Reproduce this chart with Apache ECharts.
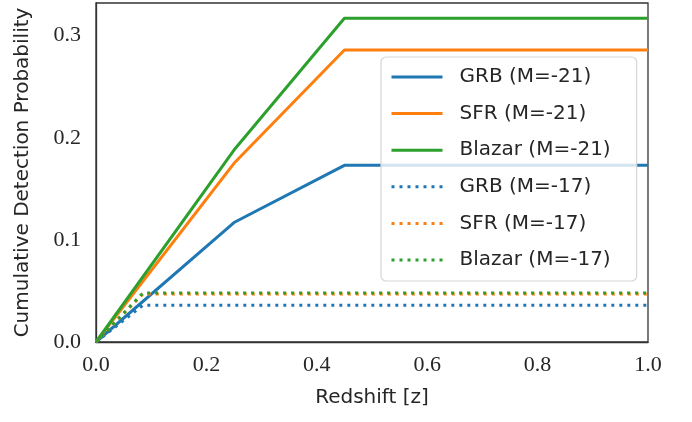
<!DOCTYPE html>
<html>
<head>
<meta charset="utf-8">
<script src="https://cdn.jsdelivr.net/npm/echarts@6/dist/echarts.min.js"></script>
<style>
    html, body { margin: 0; padding: 0; background: #fff; }
    #main { width: 692px; height: 422px; }
</style>
</head>
<body>
<div id="main"></div>
<script>
// redshift grid of the bright (M=-21) curves
var zBright = [0, 0.25, 0.45, 1.0];
var grbBright = [0, 0.117, 0.173, 0.173];
var sfrBright = [0, 0.175, 0.286, 0.286];
var blazarBright = [0, 0.188, 0.317, 0.317];
// faint (M=-17) curves saturate very early
var zFaint = [0, 0.085, 1.0];
var grbFaint = [0, 0.036, 0.036];
var sfrFaint = [0, 0.047, 0.047];
var blazarFaint = [0, 0.048, 0.048];

var names = ['GRB (M=-21)', 'SFR (M=-21)', 'Blazar (M=-21)', 'GRB (M=-17)', 'SFR (M=-17)', 'Blazar (M=-17)'];
var colors = ['#1f77b4', '#ff7f0e', '#2ca02c'];

function pairs(xs, ys) {
    var out = [];
    for (var i = 0; i < xs.length; i++) {
        out.push([xs[i], ys[i]]);
    }
    return out;
}

function makeSeries(name, xs, ys, color, dotted) {
    return {
        name: name,
        type: 'line',
        data: pairs(xs, ys),
        showSymbol: false,
        symbol: 'none',
        animation: false,
        lineStyle: { color: color, width: 3, type: dotted ? [3, 5] : 'solid', cap: 'butt' },
        itemStyle: { color: color }
    };
}

var serifFont = '"Liberation Serif", "DejaVu Serif", serif';
var sansFont = '"DejaVu Sans", "Open Sans", sans-serif';

var option = {
    backgroundColor: '#fff',
    grid: {
        left: 96, right: 44, top: 3, bottom: 80,
        show: true, borderColor: '#333', borderWidth: 1.3, backgroundColor: 'transparent'
    },
    legend: {
        left: 381, top: 57,
        orient: 'vertical',
        data: names,
        itemWidth: 51, itemHeight: 14, itemGap: 16.6,
        itemStyle: { opacity: 0 },
        lineStyle: { width: 3 },
        padding: [10, 26, 11, 9],
        backgroundColor: 'rgba(255,255,255,0.8)',
        borderColor: '#d6d6d6', borderWidth: 1.2, borderRadius: 5,
        textStyle: { fontFamily: sansFont, fontSize: 20, color: '#262626', padding: [0, 0, 0, 12] }
    },
    xAxis: {
        type: 'value', min: 0, max: 1, interval: 0.2,
        name: 'Redshift [z]', nameLocation: 'middle', nameGap: 46,
        nameTextStyle: { fontFamily: sansFont, fontSize: 20, color: '#262626' },
        axisLine: { show: true, lineStyle: { color: '#333', width: 1.3 } },
        axisTick: { show: false },
        splitLine: { show: false },
        axisLabel: {
            margin: 12, fontFamily: serifFont, fontSize: 22, color: '#262626',
            formatter: function (v) { return v.toFixed(1); }
        }
    },
    yAxis: {
        type: 'value', min: 0, max: 0.332, interval: 0.1,
        name: 'Cumulative Detection Probability', nameLocation: 'middle', nameGap: 63,
        nameTextStyle: { fontFamily: sansFont, fontSize: 20, color: '#262626' },
        axisLine: { show: true, lineStyle: { color: '#333', width: 1.3 } },
        axisTick: { show: false },
        splitLine: { show: false },
        axisLabel: {
            margin: 15, fontFamily: serifFont, fontSize: 22, color: '#262626',
            showMaxLabel: false,
            formatter: function (v) { return v.toFixed(1); }
        }
    },
    series: [
        makeSeries(names[0], zBright, grbBright, colors[0], false),
        makeSeries(names[1], zBright, sfrBright, colors[1], false),
        makeSeries(names[2], zBright, blazarBright, colors[2], false),
        makeSeries(names[3], zFaint, grbFaint, colors[0], true),
        makeSeries(names[4], zFaint, sfrFaint, colors[1], true),
        makeSeries(names[5], zFaint, blazarFaint, colors[2], true)
    ]
};

var myChart = echarts.init(document.getElementById('main'));
myChart.setOption(option);
</script>
</body>
</html>
